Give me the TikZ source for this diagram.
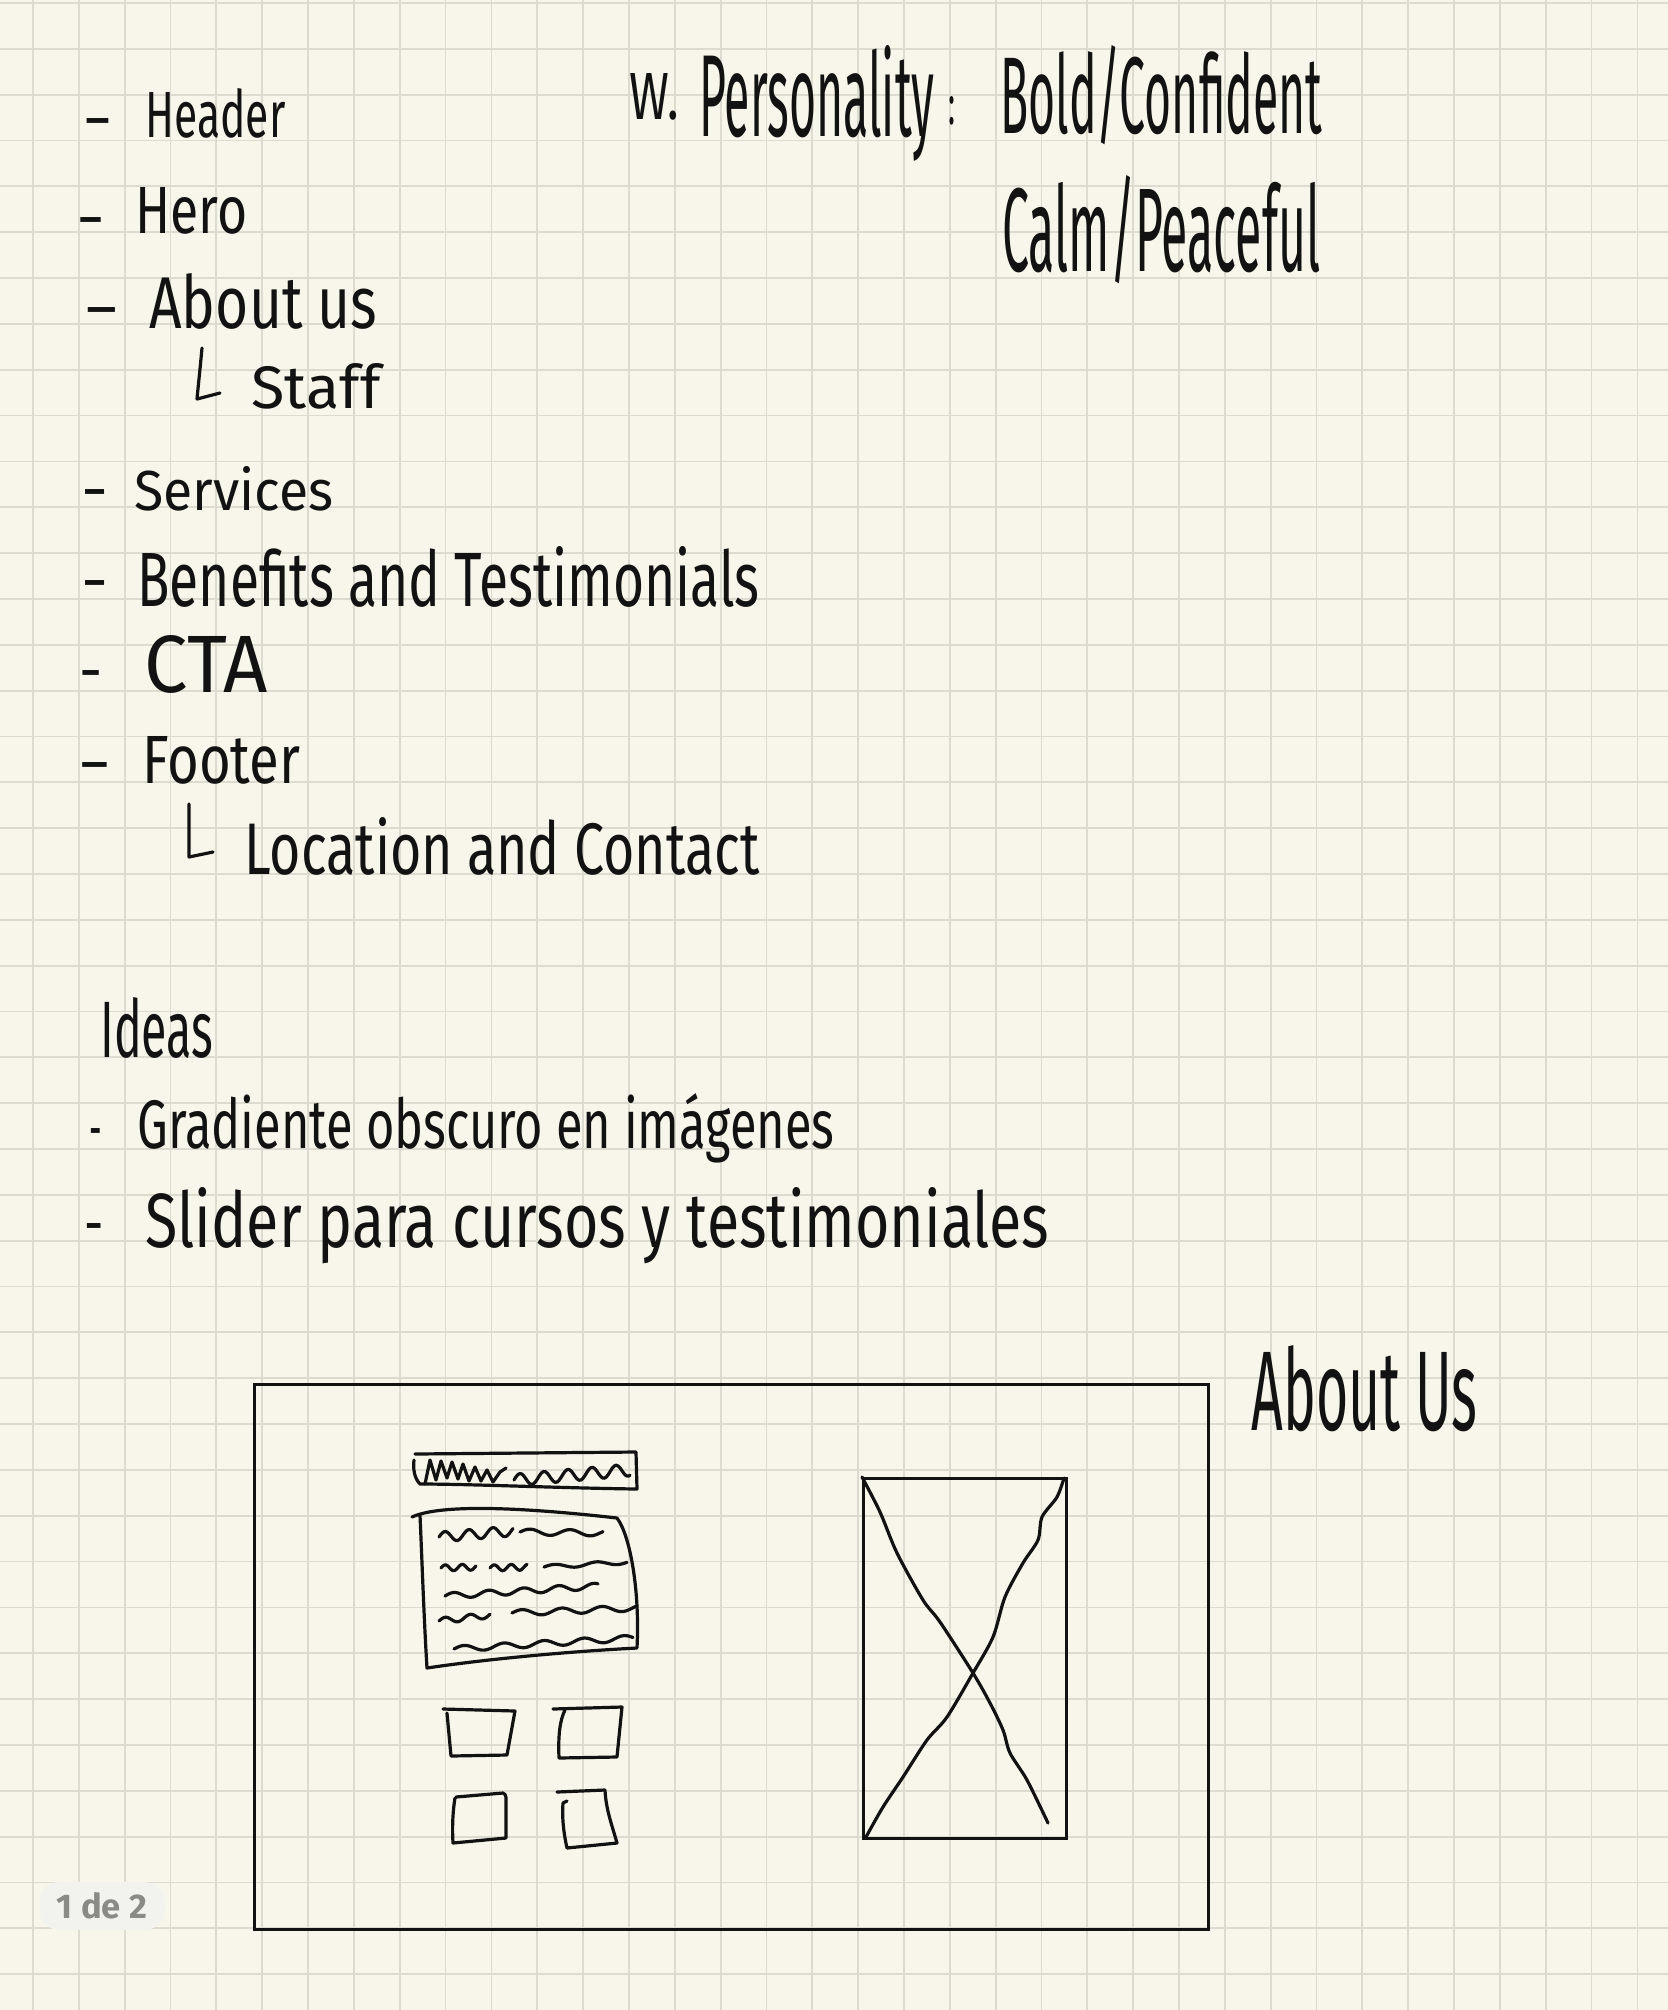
\documentclass[tikz,border=0pt]{standalone}
\usepackage{fontspec}
\setmainfont{Fira Sans}
\usepackage{graphicx}
% one drawing unit = one pixel of the page
\newlength\pxu
\setlength\pxu{0.5pt}
% handwritten word: width, height above baseline, text
\newcommand\hw[3]{\resizebox{#1\pxu}{#2\pxu}{#3}}
% bullet dash, horizontally stretched
\newcommand\hy[1]{\scalebox{#1}[1.3]{-}}
% wavy scribble line: x0, x1, y0, y1, amplitude, period
\newcommand\wavy[6]{\draw[pen] plot[domain=#1:#2, samples=60, smooth] (\x,{#3+(#4-#3)*((\x-#1)/(#2-#1))-#5*sin((360/#6)*(\x-#1))});}
\definecolor{paper}{HTML}{F8F6EA}
\definecolor{gridc}{HTML}{DDDBCF}
\definecolor{ink}{HTML}{121212}
\definecolor{badgefill}{HTML}{F2F2EE}
\definecolor{badgetext}{HTML}{8A8A86}
\begin{document}
\begin{tikzpicture}[x=0.5pt,y=-0.5pt,
  pen/.style={line width=1.6pt, draw=ink, line cap=round, line join=round},
  frame/.style={line width=1.4pt, draw=ink, inner sep=0pt, anchor=north west},
  hand/.style={inner sep=0pt, anchor=base west, text=ink},
  bullet/.style={inner sep=0pt, anchor=base, text=ink, font=\fontsize{24}{24}\selectfont},
  gridline/.style={line width=0.9pt, draw=gridc},
  badge/.style={fill=badgefill, rounded corners=10pt, minimum width=62.5pt, minimum height=24pt,
    inner sep=0pt, text=badgetext, font=\bfseries}]

% paper and squared grid
\useasboundingbox (0,0) rectangle (1668,2010);
\fill[paper] (0,0) rectangle (1668,2010);
\foreach \i in {0,...,35} {\draw[gridline] ({33+45.84*\i},0) -- ({33+45.84*\i},2010);}
\foreach \j in {0,...,43} {\draw[gridline] (0,{3+45.84*\j}) -- (1668,{3+45.84*\j});}

% web personality
\node[hand] (w) at (629,119) {\hw{50}{46}{W.}};
\node[hand] (pers) at (699,136) {\hw{235}{91}{Personality}};
\node[hand] (colon) at (948,124) {\hw{7}{28}{:}};
\node[hand] (bold) at (1000,133) {\hw{322}{88}{Bold/Confident}};
\node[hand] (calm) at (1002,271) {\hw{318}{96}{Calm/Peaceful}};

% section list
\node[bullet] (d1) at (98,140) {\hy{1.6}};
\node[hand] (header) at (145,137) {\hw{140}{49}{Header}};
\node[bullet] (d2) at (91,239) {\hy{1.5}};
\node[hand] (hero) at (135,233) {\hw{112}{46}{Hero}};
\node[bullet] (d3) at (102,329) {\hy{2.0}};
\node[hand] (about) at (149,328) {\hw{228}{55}{About us}};
\draw[pen] (202,348) .. controls (200,370) and (198,388) .. (197,399) -- (220,393);
\node[hand] (staff) at (251,408) {\hw{129}{45}{Staff}};

\node[bullet] (d4) at (95,511) {\hy{1.4}};
\node[hand] (services) at (134,510) {\hw{199}{44}{Services}};
\node[bullet] (d5) at (95,602) {\hy{1.4}};
\node[hand] (benefits) at (137,606) {\hw{622}{60}{Benefits and Testimonials}};
\node[bullet] (d6) at (91,692) {\hy{1.2}};
\node[hand] (cta) at (144,692) {\hw{123}{57}{CTA}};
\node[bullet] (d7) at (95,784) {\hy{1.8}};
\node[hand] (footer) at (142,783) {\hw{158}{47}{Footer}};
\draw[pen] (189,804) -- (189,857) -- (213,852);
\node[hand] (location) at (244,874) {\hw{515}{57}{Location and Contact}};

% ideas
\node[hand] (ideas) at (100,1057) {\hw{113}{60}{Ideas}};
\node[bullet] (d8) at (96,1150) {\hy{0.65}};
\node[hand] (gradiente) at (137,1148) {\hw{697}{55}{Gradiente obscuro en imágenes}};
\node[bullet] (d9) at (94,1245) {\hy{1.0}};
\node[hand] (slider) at (145,1247) {\hw{904}{60}{Slider para cursos y testimoniales}};

% about us wireframe
\node[hand] (aboutlbl) at (1251,1430) {\hw{226}{85}{About Us}};
\node[frame, minimum width=477pt, minimum height=272.5pt] (wire) at (253,1383) {};

% title bar with scribble
\draw[pen] (415,1454) -- (636,1452) -- (637,1489)
  .. controls (560,1488) and (470,1484) .. (420,1484)
  .. controls (414,1478) and (413,1468) .. (414,1460);
\draw[pen] (425,1484) -- (430,1460) -- (436,1480) -- (441,1461) -- (447,1478) -- (452,1462)
  -- (458,1479) -- (463,1464) -- (469,1481) -- (475,1467) -- (481,1481) -- (487,1470)
  -- (493,1482) -- (500,1472) -- (506,1468);
\wavy{514}{630}{1480}{1470}{6}{24}

% text block
\draw[pen] (412,1517) .. controls (440,1504) and (520,1507) .. (617,1518)
  .. controls (630,1535) and (640,1590) .. (637,1648)
  .. controls (560,1652) and (480,1660) .. (427,1668)
  .. controls (424,1620) and (422,1560) .. (420,1515);
\wavy{439}{513}{1537}{1531}{5}{24}
\wavy{520}{603}{1532}{1533}{3}{40}
\wavy{441}{476}{1568}{1567}{3}{17}
\wavy{490}{527}{1568}{1567}{3}{17}
\wavy{544}{627}{1567}{1562}{2}{42}
\wavy{445}{598}{1596}{1586}{3}{35}
\wavy{439}{490}{1621}{1615}{3}{25}
\wavy{512}{637}{1613}{1608}{3}{40}
\wavy{454}{633}{1649}{1638}{3}{40}

% small cards
\draw[pen] (443,1709) -- (515,1711) -- (507,1755) -- (451,1756) -- (447,1713);
\draw[pen] (553,1709) -- (622,1707) -- (617,1757) -- (559,1758) .. controls (558,1735) and (560,1720) .. (565,1710);
\draw[pen] (456,1797) -- (503,1793) .. controls (507,1794) and (506,1800) .. (506,1805) -- (506,1838) -- (453,1843) .. controls (452,1825) and (453,1810) .. (455,1798);
\draw[pen] (557,1792) -- (605,1790) .. controls (606,1810) and (612,1825) .. (617,1843) -- (567,1848) .. controls (563,1830) and (562,1815) .. (563,1803) -- (567,1801);

% image placeholder
\node[frame, minimum width=101.5pt, minimum height=180pt] (img) at (862,1477) {};
\draw[pen] plot[smooth] coordinates {(862,1477) (880,1512) (897,1553) (923,1600) (940,1622)
  (973,1673) (990,1703) (1003,1730) (1010,1753) (1027,1780) (1048,1823)};
\draw[pen] plot[smooth] coordinates {(1064,1478) (1057,1497) (1042,1517) (1038,1540) (1023,1563)
  (1005,1597) (993,1637) (973,1673) (947,1717) (927,1740) (903,1777) (883,1807) (866,1837)};

% page indicator
\node[badge] (pageno) at (102,1906) {\hw{90}{26}{1 de 2}};
\end{tikzpicture}
\end{document}
